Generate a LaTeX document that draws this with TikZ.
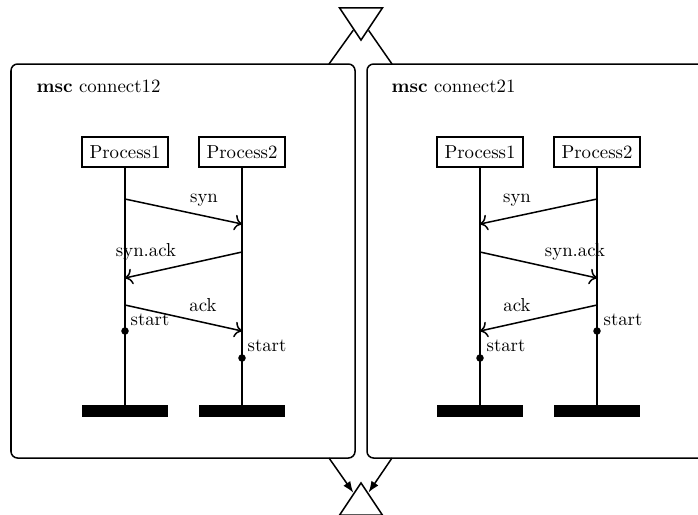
\documentclass[tikz,border=0pt]{standalone}
\usetikzlibrary{shapes.geometric,arrows.meta}
\tikzset{
  proc/.style={draw, line width=1pt, minimum width=1.6cm, minimum height=0.55cm, inner sep=0pt},
  endbar/.style={fill=black, minimum width=1.6cm, minimum height=0.22cm, inner sep=0pt},
  evt/.style={circle, fill=black, inner sep=0pt, minimum size=4pt},
  msg/.style={thick, -{To[length=4pt]}},
  hmscnode/.style={isosceles triangle, isosceles triangle stretches, draw, thick,
    minimum width=0.8cm, minimum height=0.6cm, inner sep=0pt, anchor=apex},
}

\begin{document}
\begin{tikzpicture}[x=0.0187cm, y=-0.0187cm]
    \useasboundingbox (0,0) rectangle (698,514);

    % coordinates to be reused
    \coordinate (in1) at (329,64);
    \coordinate (in2) at (392,64);
    \coordinate (out1) at (329,458);
    \coordinate (out2) at (392,458);

    % msc frames
    \draw [thick, rounded corners=3.5pt] (11,64) rectangle (355,458);
    \draw [thick, rounded corners=3.5pt] (367,64) rectangle (730,458);
    \node [anchor=base west] (title1) at (30,92) {\textbf{msc} connect12};
    \node [anchor=base west] (title2) at (385,92) {\textbf{msc} connect21};

    % hmsc start and end
    \node [hmscnode, shape border rotate=270] (start) at (361,42) {};
    \node [hmscnode, shape border rotate=90] (end) at (361,481) {};
    \draw [thick] (start) -- (in1);
    \draw [thick] (start) -- (in2);
    \draw [thick, -{Latex[length=6pt]}] (out1) -- (end);
    \draw [thick, -{Latex[length=6pt]}] (out2) -- (end);

    % instances
    \node [proc] (a1) at (125,152) {Process1};
    \node [proc] (a2) at (242,152) {Process2};
    \node [proc] (b1) at (480,152) {Process1};
    \node [proc] (b2) at (597,152) {Process2};
    \node [endbar] (ea1) at (125,411) {};
    \node [endbar] (ea2) at (242,411) {};
    \node [endbar] (eb1) at (480,411) {};
    \node [endbar] (eb2) at (597,411) {};
    \draw [thick] (a1) -- (ea1);
    \draw [thick] (a2) -- (ea2);
    \draw [thick] (b1) -- (eb1);
    \draw [thick] (b2) -- (eb2);

    % messages connect12
    \coordinate (a1s) at (125,199);
    \coordinate (a2s) at (242,224);
    \coordinate (a2k) at (242,252);
    \coordinate (a1k) at (125,278);
    \coordinate (a1a) at (125,305);
    \coordinate (a2a) at (242,331);
    \draw [msg] (a1s) -- (a2s);
    \draw [msg] (a2k) -- (a1k);
    \draw [msg] (a1a) -- (a2a);
    \node [evt] (st1) at (125,331) {};
    \node [evt] (st2) at (242,358) {};

    % messages connect21
    \coordinate (b2s) at (597,199);
    \coordinate (b1s) at (480,224);
    \coordinate (b1k) at (480,252);
    \coordinate (b2k) at (597,278);
    \coordinate (b2a) at (597,305);
    \coordinate (b1a) at (480,331);
    \draw [msg] (b2s) -- (b1s);
    \draw [msg] (b1k) -- (b2k);
    \draw [msg] (b2a) -- (b1a);
    \node [evt] (st3) at (597,331) {};
    \node [evt] (st4) at (480,358) {};

    % add labels
    \node (l1) at (204,200) {syn};
    \node (l2) at (146,252) {syn.ack};
    \node (l3) at (203,305) {ack};
    \node (l4) at (150,320) {start};
    \node (l5) at (267,346) {start};
    \node (l6) at (517,200) {syn};
    \node (l7) at (575,252) {syn.ack};
    \node (l8) at (517,305) {ack};
    \node (l9) at (623,320) {start};
    \node (l10) at (506,346) {start};
\end{tikzpicture}
\end{document}
